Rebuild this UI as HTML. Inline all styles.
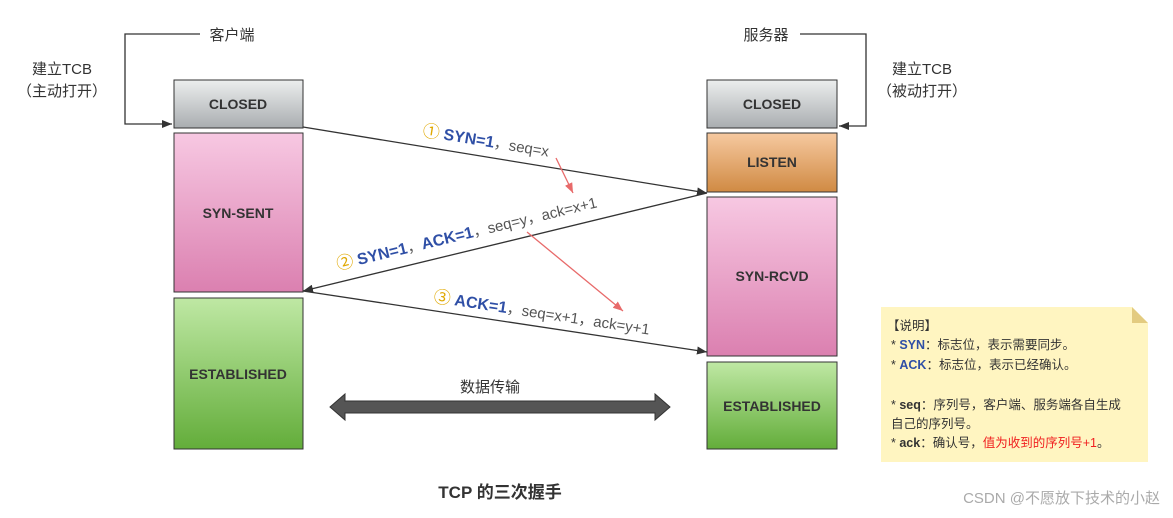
<html><body style="margin:0;background:#fff">
<svg width="1173" height="518" xmlns="http://www.w3.org/2000/svg" style="font-family:'Liberation Sans','Noto Sans CJK SC',sans-serif">
<defs>
<linearGradient id="g1" x1="0" y1="0" x2="0" y2="1"><stop offset="0" stop-color="#eceeee"/><stop offset="1" stop-color="#a9adb0"/></linearGradient>
<linearGradient id="g2" x1="0" y1="0" x2="0" y2="1"><stop offset="0" stop-color="#f7c8e2"/><stop offset="1" stop-color="#db80b0"/></linearGradient>
<linearGradient id="g3" x1="0" y1="0" x2="0" y2="1"><stop offset="0" stop-color="#bfe8a4"/><stop offset="1" stop-color="#63ad3a"/></linearGradient>
<linearGradient id="g4" x1="0" y1="0" x2="0" y2="1"><stop offset="0" stop-color="#f6c9a0"/><stop offset="1" stop-color="#d08a43"/></linearGradient>
<marker id="a" markerWidth="10" markerHeight="8" refX="10" refY="4" orient="auto" markerUnits="userSpaceOnUse"><path d="M0,0L10,4L0,8z" fill="#333"/></marker>
<marker id="r" markerWidth="10" markerHeight="8" refX="10" refY="4" orient="auto" markerUnits="userSpaceOnUse"><path d="M0,0L10,4L0,8z" fill="#e86a6a"/></marker>
</defs>
<g stroke="#333" stroke-width="1" font-weight="bold" font-size="14" fill="#333">
<rect x="174" y="80" width="129" height="48" fill="url(#g1)"/>
<rect x="174" y="133" width="129" height="159" fill="url(#g2)"/>
<rect x="174" y="298" width="129" height="151" fill="url(#g3)"/>
<rect x="707" y="80" width="130" height="48" fill="url(#g1)"/>
<rect x="707" y="133" width="130" height="59" fill="url(#g4)"/>
<rect x="707" y="197" width="130" height="159" fill="url(#g2)"/>
<rect x="707" y="362" width="130" height="87" fill="url(#g3)"/>
</g>
<g font-weight="bold" font-size="14" fill="#333" text-anchor="middle">
<text x="238" y="109">CLOSED</text><text x="238" y="218">SYN-SENT</text><text x="238" y="379">ESTABLISHED</text>
<text x="772" y="109">CLOSED</text><text x="772" y="167">LISTEN</text><text x="772" y="281">SYN-RCVD</text><text x="772" y="411">ESTABLISHED</text>
</g>
<g fill="none" stroke="#333" stroke-width="1.3">
<path d="M200,34H125V124H172" marker-end="url(#a)"/>
<path d="M800,34H866V126H839" marker-end="url(#a)"/>
<path d="M303,127L707,193" marker-end="url(#a)"/>
<path d="M707,193L303,291" marker-end="url(#a)"/>
<path d="M303,291L707,352" marker-end="url(#a)"/>
</g>
<g stroke="#e86a6a" stroke-width="1.3"><path d="M556,158L573,193" marker-end="url(#r)"/><path d="M527,232L623,311" marker-end="url(#r)"/></g>
<g font-size="15" fill="#333" text-anchor="middle">
<text x="232" y="40">客户端</text><text x="766" y="40">服务器</text>
<text x="62" y="74">建立TCB</text><text x="62" y="96">（主动打开）</text>
<text x="922" y="74">建立TCB</text><text x="922" y="96">（被动打开）</text>
<text x="490" y="392">数据传输</text>
<text x="500" y="498" font-weight="bold" font-size="17">TCP 的三次握手</text>
</g>
<text x="1160" y="503" font-size="15" fill="#aaa" text-anchor="end">CSDN @不愿放下技术的小赵</text>
<path d="M330,407L345,394V401H655V394L670,407L655,420V413H345V420Z" fill="#555" stroke="#333"/>
<g font-size="15" fill="#555">
<text transform="translate(422,136) rotate(9.3)"><tspan fill="#e0a800" font-size="17">①</tspan> <tspan fill="#2f4fa6" font-weight="bold" font-size="16">SYN=1</tspan>，seq=x</text>
<text transform="translate(338,270) rotate(-13.6)"><tspan fill="#e0a800" font-size="17">②</tspan> <tspan fill="#2f4fa6" font-weight="bold" font-size="16">SYN=1</tspan>，<tspan fill="#2f4fa6" font-weight="bold" font-size="16">ACK=1</tspan>，seq=y，ack=x+1</text>
<text transform="translate(433,302) rotate(8.6)"><tspan fill="#e0a800" font-size="17">③</tspan> <tspan fill="#2f4fa6" font-weight="bold" font-size="16">ACK=1</tspan>，seq=x+1，ack=y+1</text>
</g>
<path d="M881,307H1132L1148,323V462H881Z" fill="#fff5c1"/>
<path d="M1132,307L1148,323H1132Z" fill="#e3cb80"/>
<g font-size="12.5" fill="#333">
<text x="887" y="330">【说明】</text>
<text x="891" y="349">* <tspan fill="#2f4fa6" font-weight="bold">SYN</tspan>：标志位，表示需要同步。</text>
<text x="891" y="369">* <tspan fill="#2f4fa6" font-weight="bold">ACK</tspan>：标志位，表示已经确认。</text>
<text x="891" y="409">* <tspan font-weight="bold">seq</tspan>：序列号，客户端、服务端各自生成</text>
<text x="891" y="428">自己的序列号。</text>
<text x="891" y="447">* <tspan font-weight="bold">ack</tspan>：确认号，<tspan fill="#f02020">值为收到的序列号+1</tspan>。</text>
</g>
</svg>
</body></html>
